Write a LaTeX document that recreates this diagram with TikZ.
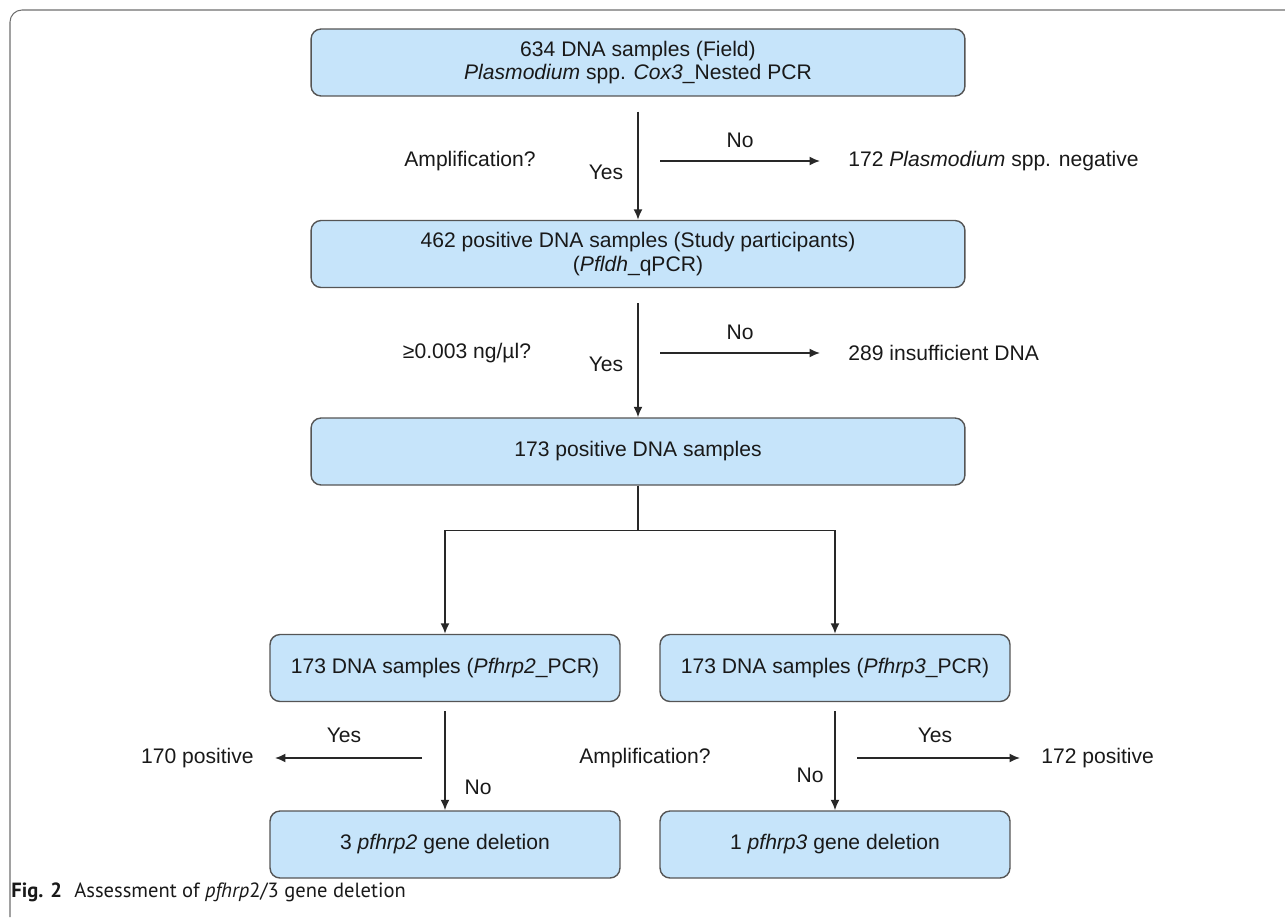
\documentclass[tikz,border=0pt]{standalone}
\usepackage{fontspec}
\setmainfont{Liberation Sans}
\newfontfamily\capfont{PT Sans}
\usetikzlibrary{arrows.meta,positioning}
\definecolor{boxfill}{RGB}{198,228,250}
\definecolor{boxline}{RGB}{85,85,85}
\definecolor{linecol}{RGB}{40,40,40}
\definecolor{framecol}{RGB}{110,110,110}
\tikzstyle{stage} = [rectangle,rounded corners=0.2cm,draw=boxline,line width=0.8pt,fill=boxfill,align=center,minimum height=1.34cm,inner sep=2pt]
\tikzstyle{wide} = [stage,minimum width=13.08cm]
\tikzstyle{half} = [stage,minimum width=7cm]
\tikzstyle{lbl} = [inner sep=0pt]
\tikzstyle{link} = [linecol,line width=0.9pt]
\tikzset{>={Latex[length=0.21cm,width=0.18cm]}}

\begin{document}
\begin{tikzpicture}[x=0.02cm,y=-0.02cm,font=\fontsize{12}{13.5}\selectfont,text=black!90]
    \useasboundingbox (0,0) rectangle (1285,917);
    \draw [framecol,line width=0.6pt,rounded corners=0.24cm] (1285,10) -- (10,10) -- (10,917);

    \node [wide] (field) at (638,62.5) {634 DNA samples (Field)\\\textit{Plasmodium} spp. \textit{Cox3}\_Nested PCR};
    \node [wide] (study) at (638,254) {462 positive DNA samples (Study participants)\\(\textit{Pfldh}\_qPCR)};
    \node [wide] (pos) at (638,451.5) {173 positive DNA samples};
    \node [half] (pf2) at (445,668) {173 DNA samples (\textit{Pfhrp2}\_PCR)};
    \node [half] (pf3) at (835,668) {173 DNA samples (\textit{Pfhrp3}\_PCR)};
    \node [half] (del2) at (445,844.5) {3 \textit{pfhrp2} gene deletion};
    \node [half] (del3) at (835,844.5) {1 \textit{pfhrp3} gene deletion};

    % first check
    \node [lbl] (amp1) at (470,161) {Amplification?};
    \node [lbl] (yes1) at (606,172) {Yes};
    \node [lbl] (no1) at (740,140) {No};
    \node [lbl,anchor=west] (neg) at (848,161) {172 \textit{Plasmodium} spp. negative};
    \coordinate (q1) at (660,161);
    \draw [link,->] ([yshift=-0.3cm]field.south) -- (study.north);
    \draw [link,->] (q1) -- ([xshift=-0.56cm]neg.west);

    % second check
    \node [lbl] (conc) at (467,353) {≥0.003 ng/µl?};
    \node [lbl] (yes2) at (606,364) {Yes};
    \node [lbl] (no2) at (740,332) {No};
    \node [lbl,anchor=west] (low) at (848,353) {289 insufficient DNA};
    \coordinate (q2) at (660,353);
    \draw [link,->] ([yshift=-0.3cm]study.south) -- (pos.north);
    \draw [link,->] (q2) -- ([xshift=-0.56cm]low.west);

    % split
    \draw [link,->] (pos.south) -- ++(0,45) -| (pf2.north);
    \draw [link,->] (pos.south) -- ++(0,45) -| (pf3.north);

    % gene checks
    \node [lbl] (amp2) at (645,758) {Amplification?};
    \node [lbl,anchor=east] (pos2) at (254,758) {170 positive};
    \node [lbl] (yes3) at (344,735) {Yes};
    \node [lbl] (no3) at (478,787) {No};
    \node [lbl,anchor=west] (pos3) at (1041,758) {172 positive};
    \node [lbl] (yes4) at (935,735) {Yes};
    \node [lbl] (no4) at (810,775) {No};
    \coordinate (q3) at (422,758);
    \coordinate (q4) at (857,758);
    \draw [link,->] ([yshift=-0.18cm]pf2.south) -- (del2.north);
    \draw [link,->] ([yshift=-0.18cm]pf3.south) -- (del3.north);
    \draw [link,->] (q3) -- ([xshift=0.42cm]pos2.east);
    \draw [link,->] (q4) -- ([xshift=-0.42cm]pos3.west);

    \node [lbl,anchor=west,font=\capfont\fontsize{11.7}{13}\selectfont] (cap) at (11,892) {\textbf{Fig. 2}\hspace{0.6em}Assessment of \textit{pfhrp}2/3 gene deletion};
\end{tikzpicture}
\end{document}
